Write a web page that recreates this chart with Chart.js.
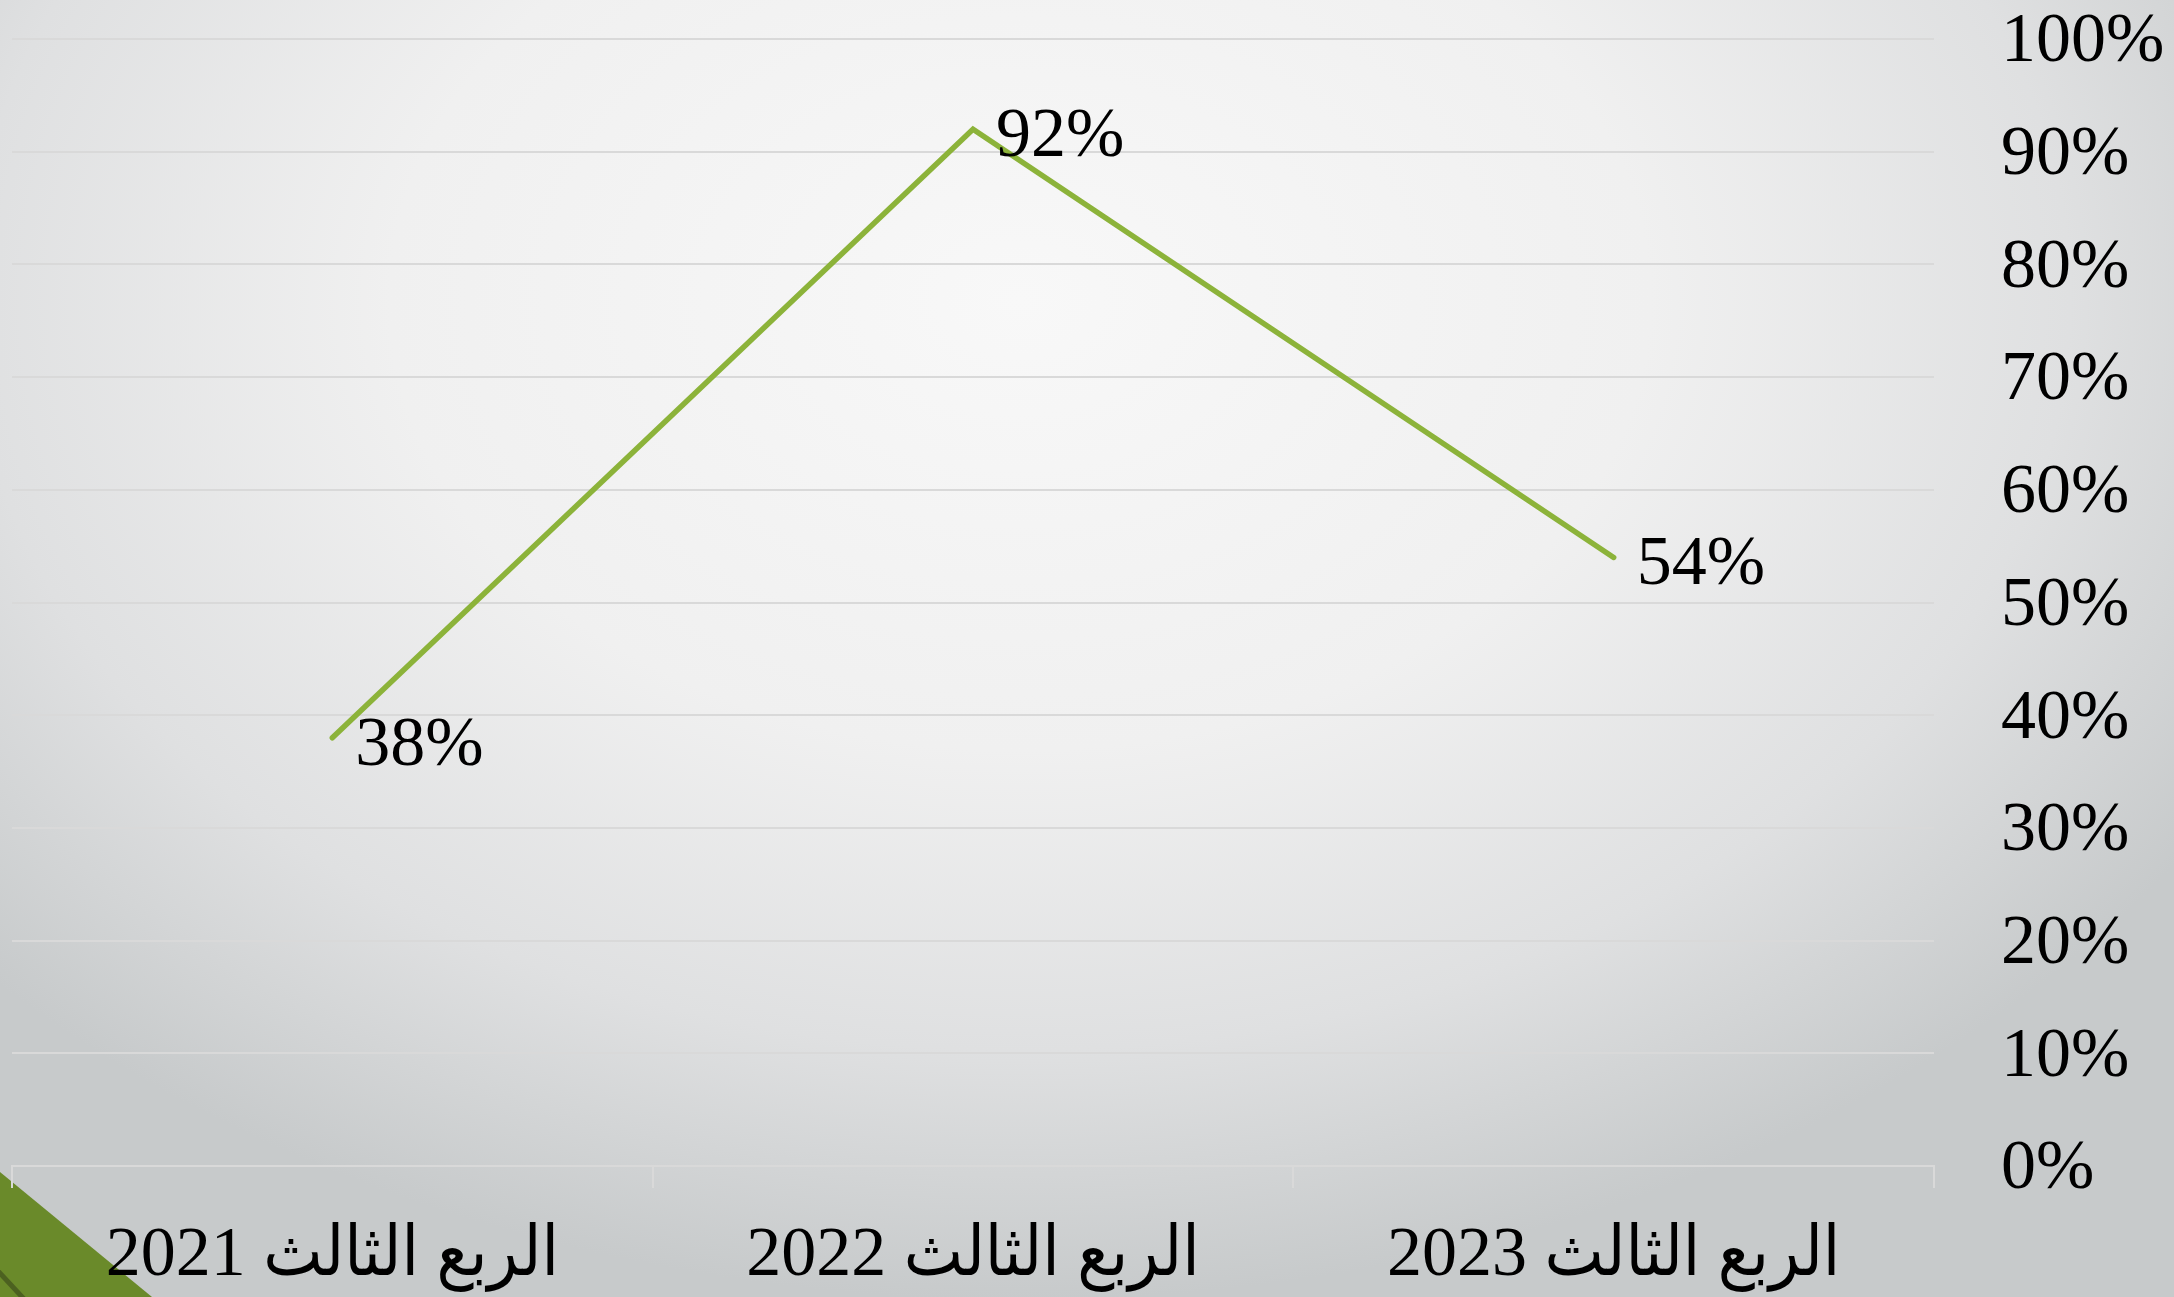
<!DOCTYPE html>
<html lang="ar">
<head>
  <meta charset="UTF-8" />
  <title>الربع الثالث</title>
  <script src="https://cdn.jsdelivr.net/npm/chart.js"></script>
  <style>
    html, body { margin: 0; padding: 0; overflow: hidden; }
    #wrap { width: 2174px; height: 1297px; }
  </style>
</head>
<body>
  <div id="wrap"><canvas id="chart" dir="rtl" width="2174" height="1297"></canvas></div>

  <script>
    // data
    const quarters = ['الربع الثالث 2021', 'الربع الثالث 2022', 'الربع الثالث 2023'];
    const rates = [38, 92, 54];
    const yMin = 0, yMax = 100, yStep = 10;

    const FONT = '"Liberation Serif", "Times New Roman", "DejaVu Sans Condensed", "DejaVu Sans", serif';
    const GRID = '#d9d9d9';
    const LINE = '#8cb33a';

    // background: soft radial grey + green corner
    const bgPlugin = {
      id: 'bg',
      beforeDraw(chart) {
        const ctx = chart.ctx, w = chart.width, h = chart.height;
        ctx.save();
        ctx.translate(1020, 300);
        ctx.scale(1.4, 1);
        const g = ctx.createRadialGradient(0, 0, 0, 0, 0, 1000);
        g.addColorStop(0, '#f8f8f8');
        g.addColorStop(0.45, '#f0f0f0');
        g.addColorStop(0.75, '#dfe0e1');
        g.addColorStop(1, '#c7cacb');
        ctx.fillStyle = g;
        ctx.fillRect(-1020 / 1.4, -300, w / 1.4 + 100, h + 100);
        ctx.restore();

        ctx.save();
        ctx.fillStyle = '#6a8a2a';
        ctx.beginPath();
        ctx.moveTo(0, 1172);
        ctx.lineTo(152, 1297);
        ctx.lineTo(0, 1297);
        ctx.closePath();
        ctx.fill();
        ctx.strokeStyle = '#4c6120';
        ctx.lineWidth = 5;
        ctx.beginPath();
        ctx.moveTo(-2, 1271);
        ctx.lineTo(24, 1299);
        ctx.stroke();
        ctx.restore();
      }
    };

    // value labels to the right of each point
    const valueLabels = {
      id: 'valueLabels',
      afterDatasetsDraw(chart) {
        const ctx = chart.ctx;
        const meta = chart.getDatasetMeta(0);
        ctx.save();
        ctx.font = '70px ' + FONT;
        ctx.fillStyle = '#000';
        ctx.textAlign = 'left';
        ctx.textBaseline = 'alphabetic';
        meta.data.forEach((pt, i) => {
          ctx.fillText(rates[i] + '%', pt.x + 23, pt.y + 27);
        });
        ctx.restore();
      }
    };

    new Chart(document.getElementById('chart'), {
      type: 'line',
      data: {
        labels: quarters,
        datasets: [{
          data: rates,
          borderColor: LINE,
          borderWidth: 5.5,
          borderCapStyle: 'round',
          borderJoinStyle: 'miter',
          pointRadius: 0,
          tension: 0,
          fill: false
        }]
      },
      options: {
        responsive: false,
        animation: false,
        events: [],
        layout: { padding: { left: 12, top: 39, right: 0, bottom: 0 } },
        plugins: { legend: { display: false }, tooltip: { enabled: false } },
        scales: {
          x: {
            offset: true,
            grid: {
              offset: true,
              drawOnChartArea: false,
              drawTicks: true,
              tickLength: 22,
              color: GRID,
              lineWidth: 2
            },
            border: { display: true, color: GRID, width: 2 },
            ticks: {
              color: '#000',
              font: { family: FONT, size: 70 },
              padding: 27,
              maxRotation: 0,
              autoSkip: false
            },
            afterFit(s) { s.height = 131; s.paddingLeft = 0; s.paddingRight = 0; }
          },
          y: {
            position: 'right',
            min: yMin,
            max: yMax,
            grid: { color: GRID, lineWidth: 2, drawTicks: false },
            border: { display: false },
            ticks: {
              stepSize: yStep,
              color: '#000',
              padding: 67,
              labelOffset: 4,
              font: { family: FONT, size: 70 },
              callback: v => v + '%'
            },
            afterFit(s) { s.width = 240; s.paddingTop = 0; s.paddingBottom = 0; }
          }
        }
      },
      plugins: [bgPlugin, valueLabels]
    });
  </script>
</body>
</html>
